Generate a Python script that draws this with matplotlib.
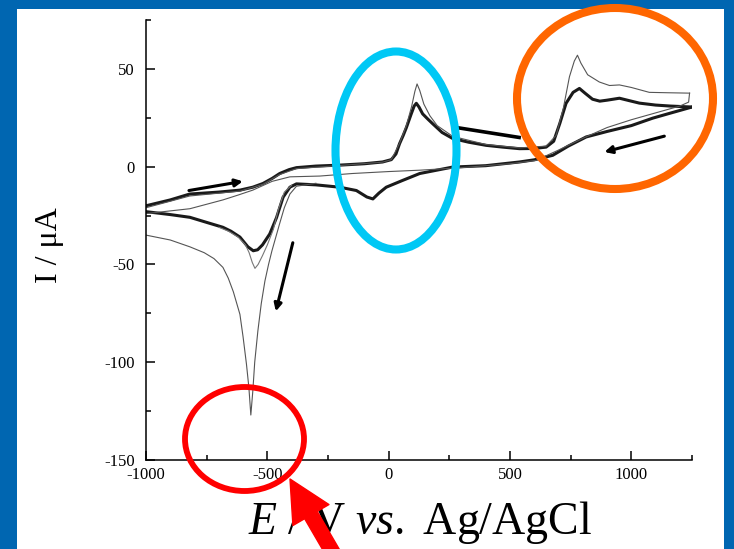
import matplotlib
matplotlib.use("Agg")
import matplotlib.pyplot as plt
import matplotlib.patches as patches
from matplotlib.ticker import FixedLocator

plt.rcParams['font.family'] = ['Liberation Serif', 'DejaVu Serif']
plt.rcParams['axes.unicode_minus'] = False
plt.rcParams['mathtext.fontset'] = 'custom'
plt.rcParams['mathtext.rm'] = 'Liberation Serif'
plt.rcParams['mathtext.it'] = 'Liberation Serif:italic'

W, H = 734, 549

# steady-state cycles (overlapping scans), forward then reverse sweep
fwd_E = [-1000, -900, -820, -700, -613, -560, -518, -480, -449, -410, -380, -300, -200, -100,
         -25, 11, 30, 45, 60, 73, 93, 105, 114, 125, 140, 160, 181, 220, 264, 330, 402, 470,
         539, 600, 649, 680, 705, 731, 760, 786, 810, 840, 870, 900, 951, 990, 1033, 1100,
         1160, 1250]
fwd_I = [-20, -17, -14, -13, -12, -10.5, -8.6, -6, -3.5, -1.5, -0.5, 0.3, 0.8, 1.5,
         2.4, 3.6, 6.5, 11.8, 16, 20, 27, 31, 32.4, 30.5, 27, 24.5, 22, 17.5, 14.4, 12.5, 10.9, 10,
         9.2, 9.3, 10, 13, 22, 32.4, 38, 40, 37.5, 34.5, 33.5, 34, 35, 33.8, 32.5, 31.5,
         31, 30.5]
rev_E = [1250, 1150, 1088, 1000, 900, 814, 740, 676, 600, 539, 400, 264, 128, 58, -10, -40,
         -65, -90, -133, -202, -300, -380, -407, -435, -462, -490, -520, -540, -558, -580,
         -613, -650, -683, -750, -819, -900, -1000]
rev_I = [30.5, 27, 24.8, 21, 18, 15.2, 10.5, 5.8, 3.5, 2.4, 0.5, -0.2, -3.5, -7, -10.5, -13.5,
         -16.5, -15.5, -12.2, -10.5, -9.3, -8.8, -10.5, -15.6, -26, -34.4, -40, -42.5, -43, -41,
         -36, -33, -31, -28.5, -25.9, -24.5, -23]

# first scan: larger oxidation peaks, flat return sweep
first_fwd_E = [-1000, -820, -613, -518, -449, -380, -200, -25, 11, 45, 73, 95, 108, 117, 128,
               145, 170, 200, 264, 402, 539, 649, 690, 720, 745, 765, 778, 792, 820, 868, 910,
               951, 1000, 1074, 1150, 1240]
first_fwd_I = [-21, -15, -12.5, -9, -4, -1, 0.6, 2.3, 3.6, 12, 21, 31, 38.5, 42.3, 39,
               32, 26, 21, 15.5, 11.3, 9.6, 10.5, 16, 30, 46, 54, 57, 53, 47, 43.3, 41.5,
               41.8, 40.5, 38, 37.8, 37.6]
first_rev_E = [1240, 1236, 1200, 1100, 1000, 900, 800, 700, 607, 500, 300, 128, 0, -150, -284,
               -407, -480, -560, -620, -683, -819, -1000]
first_rev_I = [37.6, 33, 31, 27.5, 24, 20, 14.5, 8.5, 3.2, 1.5, -0.5, -1.8, -2.5, -3.5, -4.8,
               -5.2, -7.5, -12, -14.5, -17, -21.5, -24]

# sharp reduction spike on the negative sweep
spike_E = [-300, -380, -407, -430, -449, -465, -481, -495, -510, -525, -539, -552, -560, -568,
           -576, -586, -600, -613, -640, -661, -683, -720, -760, -819, -900, -1000]
spike_I = [-8.5, -10, -14, -21, -29, -36, -43, -50, -58.5, -70, -84, -100, -115, -127,
           -113, -101, -87, -75.5, -64, -57, -51.5, -47, -44, -41, -37.5, -35]

# second scan near the -550 mV peak
second_E = [-400, -430, -455, -475, -500, -520, -538, -551, -562, -575, -590, -620, -660, -700]
second_I = [-9.5, -13, -22, -32, -40, -45.5, -50, -52, -49, -44, -40, -36, -33, -31]

# scan direction arrows (E, I) start -> end
scan_arrows = [((-823, -12.2), (-601, -7.5)),
               ((-395, -38.9), (-465, -74)),
               ((1136, 15.6), (889, 7.5))]
scan_bar = ((280, 20), (545, 14.8))

x_major = [-1000, -500, 0, 500, 1000]
x_minor = [-750, -250, 250, 750, 1250]
y_major = [-150, -100, -50, 0, 50]
y_minor = [-125, -75, -25, 25, 75]


def px(x, y):
    """pixel position (from top-left) -> figure fraction"""
    return x / W, 1 - y / H


fig = plt.figure(figsize=(W / 100, H / 100), dpi=100)
fig.patch.set_facecolor('#0066b1')
fig.patches.append(patches.Rectangle(px(17, 549), (724 - 17) / W, (549 - 9) / H,
                                     transform=fig.transFigure, facecolor='white',
                                     edgecolor='none', zorder=-5))

ax = fig.add_axes([146 / W, 1 - 460 / H, (692 - 146) / W, (460 - 20) / H])
ax.set_facecolor('none')
ax.set_zorder(1)

ax.plot(fwd_E, fwd_I, color='#1a1a1a', lw=2.2, solid_joinstyle='round')
ax.plot(rev_E, rev_I, color='#1a1a1a', lw=2.2, solid_joinstyle='round')
ax.plot(first_fwd_E, first_fwd_I, color='#555555', lw=0.8)
ax.plot(first_rev_E, first_rev_I, color='#555555', lw=0.8)
ax.plot(spike_E, spike_I, color='#555555', lw=0.8)
ax.plot(second_E, second_I, color='#777777', lw=0.8)

for start, end in scan_arrows:
    ax.annotate('', xy=end, xytext=start,
                arrowprops=dict(arrowstyle='-|>', color='black', lw=2.2,
                                mutation_scale=11, shrinkA=0, shrinkB=0))
ax.plot([scan_bar[0][0], scan_bar[1][0]], [scan_bar[0][1], scan_bar[1][1]],
        color='black', lw=2.6, solid_capstyle='butt')

ax.set_xlim(-1000, 1250)
ax.set_ylim(-150, 75)
ax.spines['top'].set_visible(False)
ax.spines['right'].set_visible(False)
for s in ('left', 'bottom'):
    ax.spines[s].set_linewidth(1.1)
ax.xaxis.set_major_locator(FixedLocator(x_major))
ax.xaxis.set_minor_locator(FixedLocator(x_minor))
ax.yaxis.set_major_locator(FixedLocator(y_major))
ax.yaxis.set_minor_locator(FixedLocator(y_minor))
ax.tick_params(which='both', direction='in', width=1.1, labelsize=12)
ax.tick_params(which='major', length=6.5)
ax.tick_params(which='minor', length=3.5)
ax.tick_params(axis='x', pad=5)
ax.tick_params(axis='y', pad=8)

fig.text(*px(50, 245), 'I / μA', rotation=90, fontsize=23, ha='center', va='center')
fig.text(*px(420, 522), r'$\mathit{E}\ /\ \mathrm{V}\ \mathit{vs.}\ \mathrm{Ag/AgCl}$',
         fontsize=33, ha='center', va='center')

# highlight rings
rings = [((396, 150.5), 121, 198, '#00c8f5', 5.8),
         ((615, 98.5), 196, 181, '#ff6600', 5.8),
         ((244.5, 439), 119, 104, '#ff0000', 4.2)]
for (cx, cy), w, h, col, lw in rings:
    fig.patches.append(patches.Ellipse(px(cx, cy), w / W, h / H, transform=fig.transFigure,
                                       fill=False, edgecolor=col, lw=lw, zorder=5))

fig.patches.append(patches.FancyArrowPatch(
    px(340, 565), px(290, 479), transform=fig.transFigure,
    arrowstyle=patches.ArrowStyle.Simple(head_length=3.0, head_width=3.0, tail_width=1.05),
    mutation_scale=10, color='#ff0000', shrinkA=0, shrinkB=0, zorder=6))

fig.savefig('out.png', dpi=100, facecolor=fig.get_facecolor())
